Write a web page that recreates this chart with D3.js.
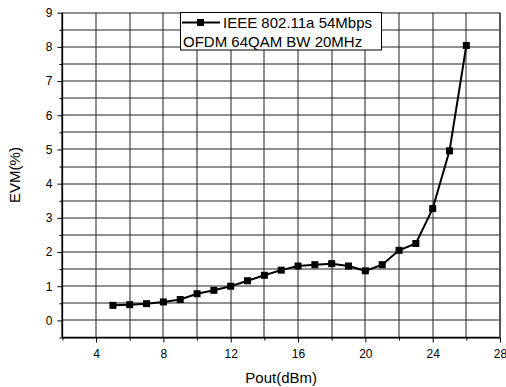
<!DOCTYPE html>
<html>
<head>
<meta charset="utf-8">
<script src="https://cdn.jsdelivr.net/npm/d3@7"></script>
<style>
  html, body { margin: 0; padding: 0; background: #fff; }
  svg { display: block; font-family: "Liberation Sans", Arial, sans-serif; }
</style>
</head>
<body>
<svg id="chart" width="506" height="387"></svg>
<script>
var pout = [5, 6, 7, 8, 9, 10, 11, 12, 13, 14, 15, 16, 17, 18, 19, 20, 21, 22, 23, 24, 25, 26];
var evm = [0.44, 0.46, 0.49, 0.54, 0.61, 0.78, 0.88, 1.0, 1.16, 1.32, 1.47, 1.59, 1.63, 1.66, 1.59, 1.45, 1.63, 2.05, 2.25, 3.27, 4.96, 8.04];
var xTicks = [4, 8, 12, 16, 20, 24, 28];
var yTicks = [0, 1, 2, 3, 4, 5, 6, 7, 8, 9];
var legendLines = ['IEEE 802.11a 54Mbps', 'OFDM 64QAM BW 20MHz'];

var plotL = 62.4, plotR = 500, plotT = 12.7, plotB = 337.5;
var svg = d3.select('#chart');

var xs = d3.scaleLinear().domain([2, 28]).range([plotL, plotR]);
var ys = d3.scaleLinear().domain([-0.5, 9]).range([plotB, plotT]);

// grid every 2 on x, every 0.5 on y
var xGrid = [], yGrid = [], k;
for (k = 2; k <= 28; k += 2) xGrid.push(k);
for (k = -0.5; k <= 9; k += 0.5) yGrid.push(k);

var noLabel = function() { return ''; };

// gridlines as thin filled rects
var gridG = svg.append('g');
gridG.selectAll('rect.gx').data(xGrid).enter().append('rect').attr('class', 'gx')
  .attr('x', function(d) { return Math.round(xs(d)) - 0.5; })
  .attr('y', plotT).attr('width', 1).attr('height', plotB - plotT)
  .attr('fill', '#222');
gridG.selectAll('rect.gy').data(yGrid).enter().append('rect').attr('class', 'gy')
  .attr('x', plotL).attr('y', function(d) { return Math.round(ys(d)) - 0.5; })
  .attr('width', plotR - plotL).attr('height', 1)
  .attr('fill', '#222');

// left axis, minor then major ticks
svg.append('g').attr('transform', 'translate(' + plotL + ',0)')
  .call(d3.axisLeft(ys).tickValues(yGrid.filter(function(d) { return d % 1 !== 0; })).tickSize(3).tickFormat(noLabel))
  .call(function(g) { g.select('.domain').remove(); });
svg.append('g').attr('transform', 'translate(' + plotL + ',0)')
  .call(d3.axisLeft(ys).tickValues(yTicks).tickSize(5).tickPadding(5).tickFormat(d3.format('d')))
  .call(function(g) {
    g.select('.domain').remove();
    g.selectAll('text').style('font-size', '12px').attr('fill', '#000');
  });

// bottom axis
svg.append('g').attr('transform', 'translate(0,' + plotB + ')')
  .call(d3.axisBottom(xs).tickValues(xGrid.filter(function(d) { return d % 4 !== 0; })).tickSize(3).tickFormat(noLabel))
  .call(function(g) { g.select('.domain').remove(); });
svg.append('g').attr('transform', 'translate(0,' + plotB + ')')
  .call(d3.axisBottom(xs).tickValues(xTicks).tickSize(5).tickPadding(7).tickFormat(d3.format('d')))
  .call(function(g) {
    g.select('.domain').remove();
    g.selectAll('text').style('font-size', '12px').attr('fill', '#000');
  });

svg.selectAll('.tick line').attr('stroke', '#000');

// frame
svg.append('line').attr('x1', plotL).attr('x2', plotL).attr('y1', plotT).attr('y2', plotB)
  .attr('stroke', '#000').attr('stroke-width', 1.5);
svg.append('line').attr('x1', plotL).attr('x2', plotR).attr('y1', plotB).attr('y2', plotB)
  .attr('stroke', '#000').attr('stroke-width', 1.5);
svg.append('line').attr('x1', plotR).attr('x2', plotR).attr('y1', plotT).attr('y2', plotB)
  .attr('stroke', '#555').attr('stroke-width', 2);

// axis titles
svg.append('text').attr('x', (plotL + plotR) / 2).attr('y', 383)
  .attr('text-anchor', 'middle').style('font-size', '15px').text('Pout(dBm)');
svg.append('text').attr('transform', 'translate(20,175) rotate(-90)')
  .attr('text-anchor', 'middle').style('font-size', '15px').text('EVM(%)');

// series
var pts = pout.map(function(d, j) { return [d, evm[j]]; });
var path = d3.line().x(function(d) { return xs(d[0]); }).y(function(d) { return ys(d[1]); });
svg.append('path').datum(pts).attr('d', path)
  .attr('fill', 'none').attr('stroke', '#000').attr('stroke-width', 2);
svg.append('g').selectAll('rect').data(pts).enter().append('rect')
  .attr('x', function(d) { return xs(d[0]) - 3.5; })
  .attr('y', function(d) { return ys(d[1]) - 3.5; })
  .attr('width', 7).attr('height', 7).attr('fill', '#000');

// legend
var lg = svg.append('g');
lg.append('rect').attr('x', 180.5).attr('y', 12.5).attr('width', 201).attr('height', 37.5)
  .attr('fill', '#fff').attr('stroke', '#000').attr('stroke-width', 1);
lg.append('line').attr('x1', 182).attr('x2', 220).attr('y1', 22.5).attr('y2', 22.5)
  .attr('stroke', '#000').attr('stroke-width', 2);
lg.append('rect').attr('x', 197).attr('y', 19).attr('width', 7).attr('height', 7).attr('fill', '#000');
lg.append('text').attr('x', 223).attr('y', 28).style('font-size', '15px').text(legendLines[0]);
lg.append('text').attr('x', 183).attr('y', 46.5).style('font-size', '15px').text(legendLines[1]);
</script>
</body>
</html>
